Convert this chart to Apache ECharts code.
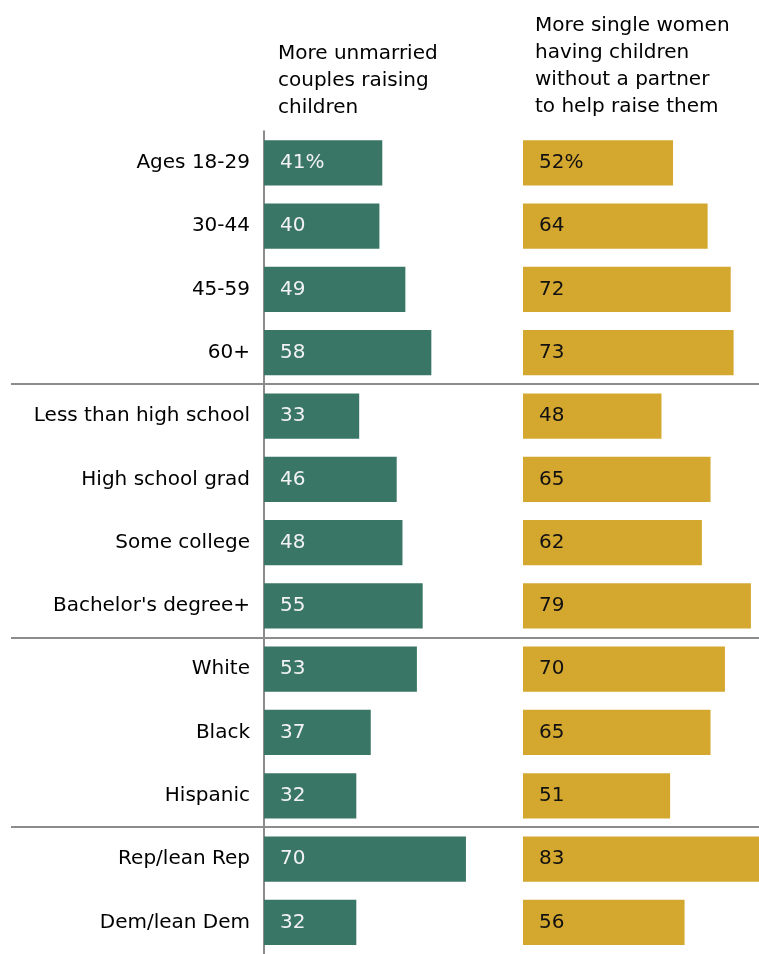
<!DOCTYPE html>
<html>
<head>
<meta charset="utf-8">
<script src="https://cdn.jsdelivr.net/npm/echarts@6/dist/echarts.min.js"></script>
<style>
html,body{margin:0;padding:0;background:#fff;}
#chart{width:759px;height:954px;}
</style>
</head>
<body>
<div id="chart"></div>
<script>
const categories = ['Ages 18-29','30-44','45-59','60+','Less than high school','High school grad','Some college',"Bachelor's degree+",'White','Black','Hispanic','Rep/lean Rep','Dem/lean Dem'];
const unmarriedCouples = [41,40,49,58,33,46,48,55,53,37,32,70,32];
const singleWomen = [52,64,72,73,48,65,62,79,70,65,51,83,56];
const groupBreaksAfter = [3,7,10];
const titleLeft = 'More unmarried\ncouples raising\nchildren';
const titleRight = 'More single women\nhaving children\nwithout a partner\nto help raise them';

const FONT = 'DejaVu Sans';
const chart = echarts.init(document.getElementById('chart'), null, {renderer:'canvas'});

const gridTop = 131.2, gridBottom = -4.5;
const pxPerUnit = 2.885;
const leftW = 288.5, rightW = 236;
function labelFmt(){ return p => p.dataIndex === 0 ? p.value + '%' : String(p.value); }

chart.setOption({
  animation: false,
  backgroundColor: '#ffffff',
  textStyle: {fontFamily: FONT},
  title: [
    {text: titleLeft, left: 273, top: 35, textStyle: {fontFamily: FONT, fontSize: 20, fontWeight: 'normal', color: '#000', lineHeight: 27}},
    {text: titleRight, left: 530, top: 7, textStyle: {fontFamily: FONT, fontSize: 20, fontWeight: 'normal', color: '#000', lineHeight: 27}}
  ],
  grid: [
    {left: 264, top: gridTop, bottom: gridBottom, width: leftW, containLabel: false},
    {left: 523, top: gridTop, bottom: gridBottom, width: rightW, containLabel: false}
  ],
  xAxis: [
    {gridIndex: 0, type: 'value', min: 0, max: leftW / pxPerUnit, show: false},
    {gridIndex: 1, type: 'value', min: 0, max: rightW / pxPerUnit, show: false}
  ],
  yAxis: [
    {gridIndex: 0, type: 'category', data: categories, inverse: true, offset: 1,
     axisLine: {show: true, lineStyle: {color: '#8c8c8c', width: 2}},
     axisTick: {show: false},
     axisLabel: {fontFamily: FONT, fontSize: 20, color: '#000', margin: 13, padding: [2, 0, 0, 0]}},
    {gridIndex: 1, type: 'category', data: categories, inverse: true, show: false}
  ],
  series: [
    {type: 'bar', xAxisIndex: 0, yAxisIndex: 0, data: unmarriedCouples, barWidth: '71.5%',
     itemStyle: {color: '#3a7666'},
     label: {show: true, position: 'insideLeft', distance: 16, formatter: labelFmt(), fontFamily: FONT, fontSize: 20, color: '#f2f2f2', padding: [2, 0, 0, 0]}},
    {type: 'bar', xAxisIndex: 1, yAxisIndex: 1, data: singleWomen, barWidth: '71.5%', clip: true,
     itemStyle: {color: '#d4a72f'},
     label: {show: true, position: 'insideLeft', distance: 16, formatter: labelFmt(), fontFamily: FONT, fontSize: 20, color: '#111', padding: [2, 0, 0, 0]}}
  ]
});

const lines = groupBreaksAfter.map(i => {
  const y1 = chart.convertToPixel({yAxisIndex: 0}, categories[i]);
  const y2 = chart.convertToPixel({yAxisIndex: 0}, categories[i + 1]);
  const y = Math.round((y1 + y2) / 2);
  return {type: 'line', shape: {x1: 11, y1: y, x2: 759, y2: y}, style: {stroke: '#8c8c8c', lineWidth: 2}, z: 10};
});
chart.setOption({graphic: lines});
</script>
</body>
</html>
